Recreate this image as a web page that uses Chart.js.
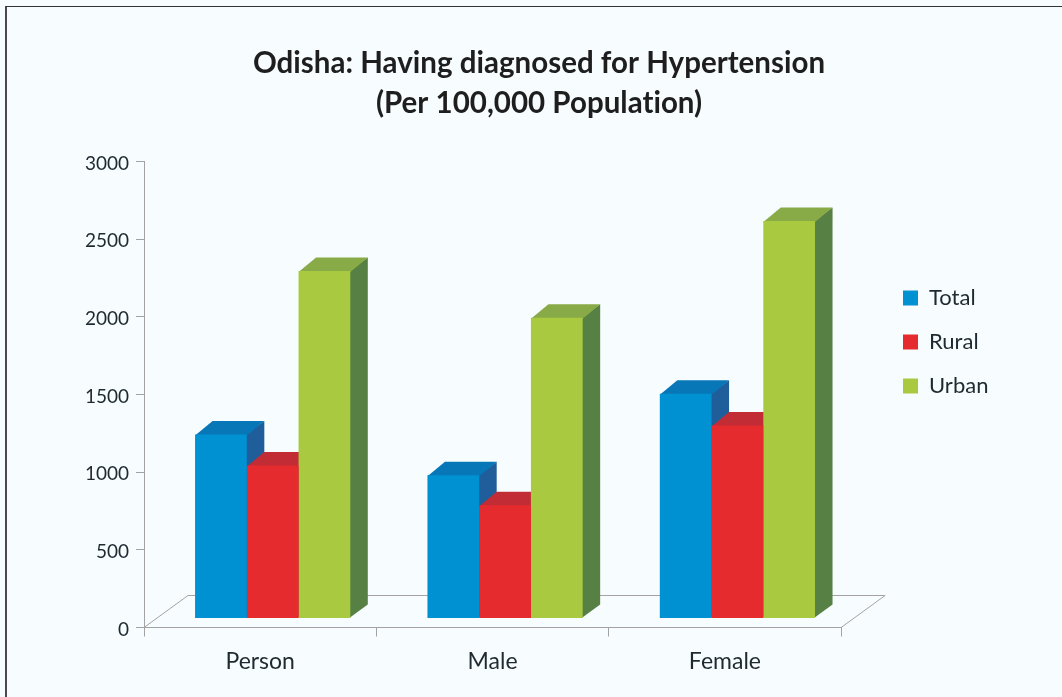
<!DOCTYPE html>
<html>
<head>
<meta charset="utf-8">
<style>
html,body{margin:0;padding:0;background:#f7fcff;width:1062px;height:697px;overflow:hidden}
#frame{position:absolute;left:5px;top:6px;right:-5px;bottom:-5px;border-left:2px solid #4a4a4a;border-top:1px solid #333}
canvas{position:absolute;left:0;top:0}
</style>
<script src="https://cdn.jsdelivr.net/npm/chart.js@4"></script>
</head>
<body>
<div id="frame"></div>
<canvas id="c" width="1062" height="697"></canvas>
<script>
const categories = ["Person", "Male", "Female"];
const total = [1243, 980, 1506];
const rural = [1044, 787, 1301];
const urban = [2296, 1995, 2618];
const titleLines = ["Odisha: Having diagnosed for Hypertension", "(Per 100,000 Population)"];
const floorValue = 61;
const frontColors = ["#0091d3", "#e62b2e", "#a9ca40"];
const topColors = ["#0777b8", "#c22d35", "#88ab47"];
const sideColors = ["#1f5e9a", "#a82a30", "#568044"];
const DX = 17.5, DY = -13.5, SHIFT = 12.5;
const AXIS = "#a3a3a3", INK = "#1f2a30";
const FONT = "Lato";

const threeD = {
  id: "threeD",
  afterLayout(chart) {
    const l = chart.legend, t = chart.titleBlock;
    const w = l.right - l.left;
    const h = l.bottom - l.top;
    l.left = 881; l.right = 881 + w;
    l.top = 265; l.bottom = 265 + h;
    t.left = 139; t.right = 939;
  },
  beforeDraw(chart) { chart.ctx.letterSpacing = "0.01px"; },
  beforeDatasetsDraw(chart) {
    const ctx = chart.ctx, a = chart.chartArea;
    const fy = a.bottom, bx = 44, by = -32;
    ctx.save();
    ctx.strokeStyle = AXIS; ctx.lineWidth = 1;
    ctx.beginPath();
    ctx.moveTo(a.left, fy); ctx.lineTo(a.left + bx, fy + by);
    ctx.lineTo(a.right + bx, fy + by); ctx.lineTo(a.right, fy);
    ctx.stroke();
    ctx.restore();
    ctx.save();
    ctx.translate(SHIFT, 0);
    chart.data.datasets.forEach((ds, i) => {
      chart.getDatasetMeta(i).data.forEach(bar => {
        const p = bar.getProps(["x", "y", "base", "width"], true);
        const L = p.x - p.width / 2, R = p.x + p.width / 2, T = p.y, B = p.base;
        ctx.fillStyle = sideColors[i];
        ctx.beginPath();
        ctx.moveTo(R - 1, T); ctx.lineTo(R + DX, T + DY); ctx.lineTo(R + DX, B + DY); ctx.lineTo(R - 1, B);
        ctx.closePath(); ctx.fill();
        ctx.fillStyle = topColors[i];
        ctx.beginPath();
        ctx.moveTo(L, T + 1); ctx.lineTo(L + DX, T + DY); ctx.lineTo(R + DX, T + DY); ctx.lineTo(R, T + 1);
        ctx.closePath(); ctx.fill();
      });
    });
  },
  afterDatasetsDraw(chart) { chart.ctx.restore(); }
};

new Chart(document.getElementById("c"), {
  type: "bar",
  data: {
    labels: categories,
    datasets: [
      { label: "Total", data: total, backgroundColor: frontColors[0], base: floorValue },
      { label: "Rural", data: rural, backgroundColor: frontColors[1], base: floorValue },
      { label: "Urban", data: urban, backgroundColor: frontColors[2], base: floorValue }
    ]
  },
  plugins: [threeD],
  options: {
    responsive: false,
    animation: false,
    devicePixelRatio: 1,
    layout: { padding: { left: 0, right: 103.5, top: 0, bottom: 0 } },
    datasets: { bar: { barPercentage: 1, categoryPercentage: 0.668 } },
    plugins: {
      title: {
        display: true, text: titleLines, color: "#1e1e1e",
        font: { family: FONT, size: 29.5, weight: "bold", lineHeight: 1.35 },
        padding: { top: 44, bottom: 38 }
      },
      legend: {
        display: true, position: "right", align: "start",
        labels: { boxWidth: 15, boxHeight: 15, padding: 22, color: INK, font: { family: FONT, size: 22 } }
      },
      tooltip: { enabled: false }
    },
    scales: {
      x: {
        afterFit(s) { s.height = 69.5; },
        grid: { offset: true, drawOnChartArea: false, drawTicks: true, tickLength: 9, color: AXIS },
        border: { color: AXIS },
        ticks: { color: INK, padding: 11, font: { family: FONT, size: 23 }, maxRotation: 0 }
      },
      y: {
        min: 0, max: 3000,
        afterFit(s) { s.width = 144; },
        grid: { drawOnChartArea: false, drawTicks: true, tickLength: 8, color: AXIS },
        border: { color: AXIS },
        ticks: { stepSize: 500, color: INK, padding: 7, labelOffset: 2, font: { family: FONT, size: 19 },
                 callback: v => String(v) }
      }
    }
  }
});
</script>
</body>
</html>
